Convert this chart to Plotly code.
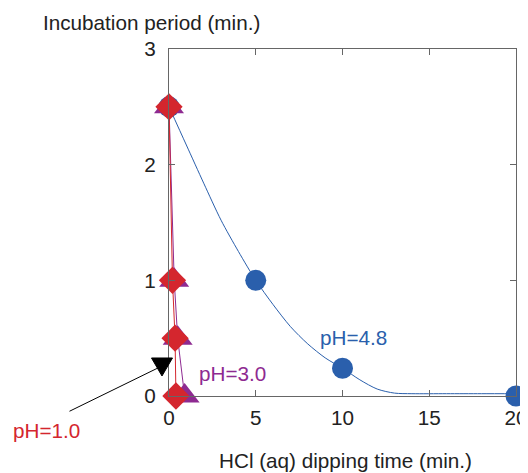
import plotly.graph_objects as go

ph48_x = [0, 5, 10, 20]
ph48_y = [2.5, 1.0, 0.24, 0.0]
fit48_x = [0, 1, 2, 3, 4, 5, 6, 7, 8, 9, 10, 11, 12, 13, 14, 16, 18, 20]
fit48_y = [2.5, 2.17, 1.84, 1.52, 1.25, 1.0, 0.79, 0.6, 0.45, 0.33, 0.24, 0.14,
           0.06, 0.025, 0.02, 0.02, 0.02, 0.02]

# pH = 3.0
ph30_x = [0, 0.3, 0.5, 0.9]
ph30_y = [2.5, 1.0, 0.5, 0.0]

# pH = 1.0
ph10_x = [0, 0.2, 0.35, 0.4]
ph10_y = [2.5, 1.0, 0.5, 0.0]

x_ticks = [0, 5, 10, 15, 20]
y_ticks = [0, 1, 2, 3]

BLUE = "#2a5fac"
PURPLE = "#8e2a91"
RED = "#d4262e"
FONT = "Liberation Sans, Arial, sans-serif"
FS = 20.7

fig = go.Figure()
fig.add_trace(go.Scatter(x=fit48_x, y=fit48_y, mode="lines",
                         line=dict(color=BLUE, width=1, shape="spline", smoothing=0.8),
                         cliponaxis=False, hoverinfo="skip"))
fig.add_trace(go.Scatter(x=ph48_x, y=ph48_y, mode="markers",
                         marker=dict(symbol="circle", size=21, color=BLUE), cliponaxis=False))
fig.add_trace(go.Scatter(x=ph30_x, y=ph30_y, mode="lines+markers", line=dict(color=PURPLE, width=1),
                         marker=dict(symbol="triangle-up", size=26, color=PURPLE), cliponaxis=False))
fig.add_trace(go.Scatter(x=ph10_x, y=ph10_y, mode="lines+markers", line=dict(color=RED, width=1),
                         marker=dict(symbol="diamond", size=21, color=RED), cliponaxis=False))

# pointer: black triangle plus line to the pH=1.0 label
fig.add_shape(type="path", xref="paper", yref="paper", xsizemode="pixel", ysizemode="pixel",
              xanchor=-0.0202, yanchor=0.0865, path="M -10.5,8 L 10.5,8 L 0,-10 Z",
              fillcolor="black", line=dict(color="black", width=1))
fig.add_annotation(x=-0.0202, y=0.0865, xref="paper", yref="paper", ax=-94, ay=46, text="",
                   showarrow=True, arrowhead=0, arrowwidth=1, arrowcolor="black")


def label(x, y, text, color):
    fig.add_annotation(x=x, y=y, xref="paper", yref="paper", text=text, showarrow=False,
                       xanchor="center", yanchor="middle",
                       font=dict(color=color, size=FS, family=FONT))


label(0.533, 0.168, "pH=4.8", BLUE)
label(0.183, 0.066, "pH=3.0", PURPLE)
label(-0.354, -0.098, "pH=1.0", RED)
label(-0.0504, 1.075, "Incubation period (min.)", "#222")
label(0.509, -0.186, "HCl (aq) dipping time (min.)", "#222")

axis_common = dict(showgrid=False, zeroline=False, showline=True, linecolor="#666", linewidth=1,
                   mirror="ticks", ticks="inside", ticklen=6, tickcolor="#666", automargin=False,
                   tickfont=dict(size=FS, color="#222", family=FONT))
fig.update_xaxes(range=[0, 20], tickvals=x_ticks, ticklabelstandoff=3, **axis_common)
fig.update_yaxes(range=[0, 3], tickvals=y_ticks, ticklabelstandoff=8, **axis_common)

# page body adds an 8px offset, so the figure is sized to fit the window
fig.update_layout(width=520, height=465, margin=dict(l=161, r=12, t=41, b=77),
                  plot_bgcolor="white", paper_bgcolor="white", showlegend=False,
                  font=dict(family=FONT))
fig.write_html("out.html")
